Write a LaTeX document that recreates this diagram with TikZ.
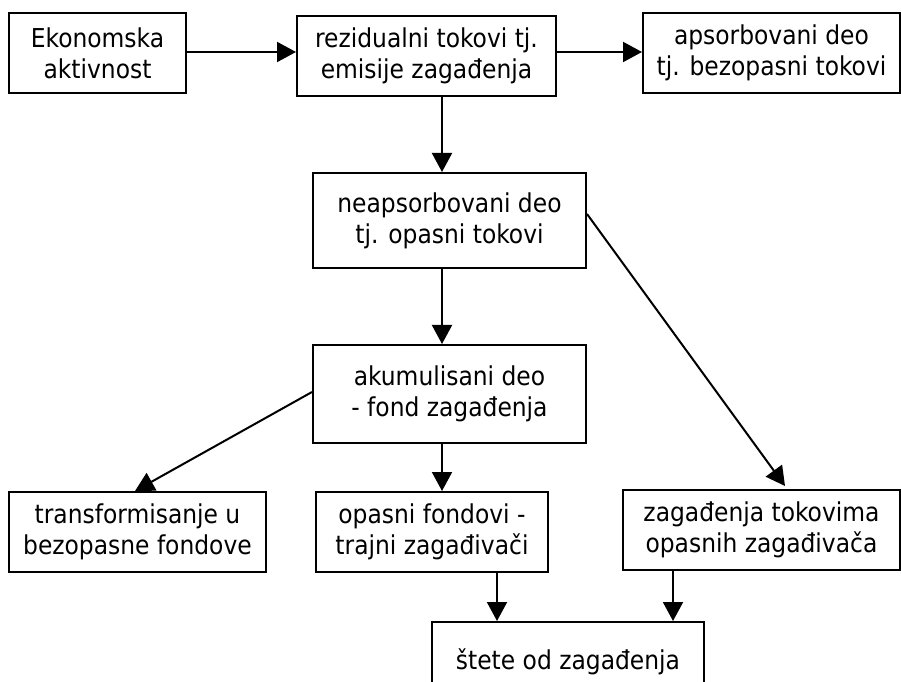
\documentclass[tikz,border=0pt]{standalone}
\usepackage{fontspec}
\setmainfont{DejaVu Sans Condensed}
\usetikzlibrary{arrows.meta}

\begin{document}
\begin{tikzpicture}[
    box/.style={draw, line width=0.04cm, align=center, inner sep=0pt,
        minimum height=1.6cm, font=\fontsize{14.8}{17.6}\selectfont},
    arr/.style={line width=0.04cm, -{Triangle[length=0.38cm, width=0.4cm]}}]
    \useasboundingbox (0,0) rectangle (18.02,13.62);
    % Top row
    \node[box, minimum width=3.54cm] (eko) at (1.95,12.56) {Ekonomska\\aktivnost};
    \node[box, minimum width=5.18cm] (rez) at (8.53,12.50) {rezidualni tokovi tj.\\emisije zagađenja};
    \node[box, minimum width=5.14cm] (aps) at (15.43,12.56) {apsorbovani deo\\tj. bezopasni tokovi};
    % Middle column
    \node[box, minimum width=5.46cm, minimum height=1.9cm] (neap) at (8.99,9.21) {neapsorbovani deo\\tj. opasni tokovi};
    \node[box, minimum width=5.46cm, minimum height=1.96cm] (akum) at (8.99,5.74) {akumulisani deo\\- fond zagađenja};
    % Lower row
    \node[box, minimum width=5.14cm] (trans) at (2.75,2.98) {transformisanje u\\bezopasne fondove};
    \node[box, minimum width=4.64cm] (opf) at (8.64,2.98) {opasni fondovi -\\trajni zagađivači};
    \node[box, minimum width=5.54cm] (zag) at (15.23,3.02) {zagađenja tokovima\\opasnih zagađivača};
    % Bottom box, cut by the page edge
    \begin{scope}
        \clip (0,0) rectangle (18.02,13.62);
        \node[box, minimum width=5.44cm] (stete) at (11.36,0.38) {štete od zagađenja};
    \end{scope}
    % Arrows
    \coordinate (xa) at (8.84,12.58);
    \draw[arr] (eko.east |- xa) -- (rez.west |- xa);
    \draw[arr] (rez.east |- xa) -- (aps.west |- xa);
    \draw[arr] (rez.south -| xa) -- (neap.north -| xa);
    \draw[arr] (neap.south -| xa) -- (akum.north -| xa);
    \draw[arr] (akum.south -| xa) -- (opf.north -| xa);
    \draw[arr] ([yshift=0.04cm]akum.west) -- ([xshift=-0.05cm]trans.north);
    \draw[arr] ([yshift=0.13cm]neap.east) -- ([xshift=0.47cm, yshift=0.06cm]zag.north);
    \draw[arr] ([xshift=1.3cm]opf.south) -- ([xshift=1.3cm]opf.south |- stete.north);
    \draw[arr] ([xshift=-1.77cm]zag.south) -- ([xshift=-1.77cm]zag.south |- stete.north);
\end{tikzpicture}
\end{document}
